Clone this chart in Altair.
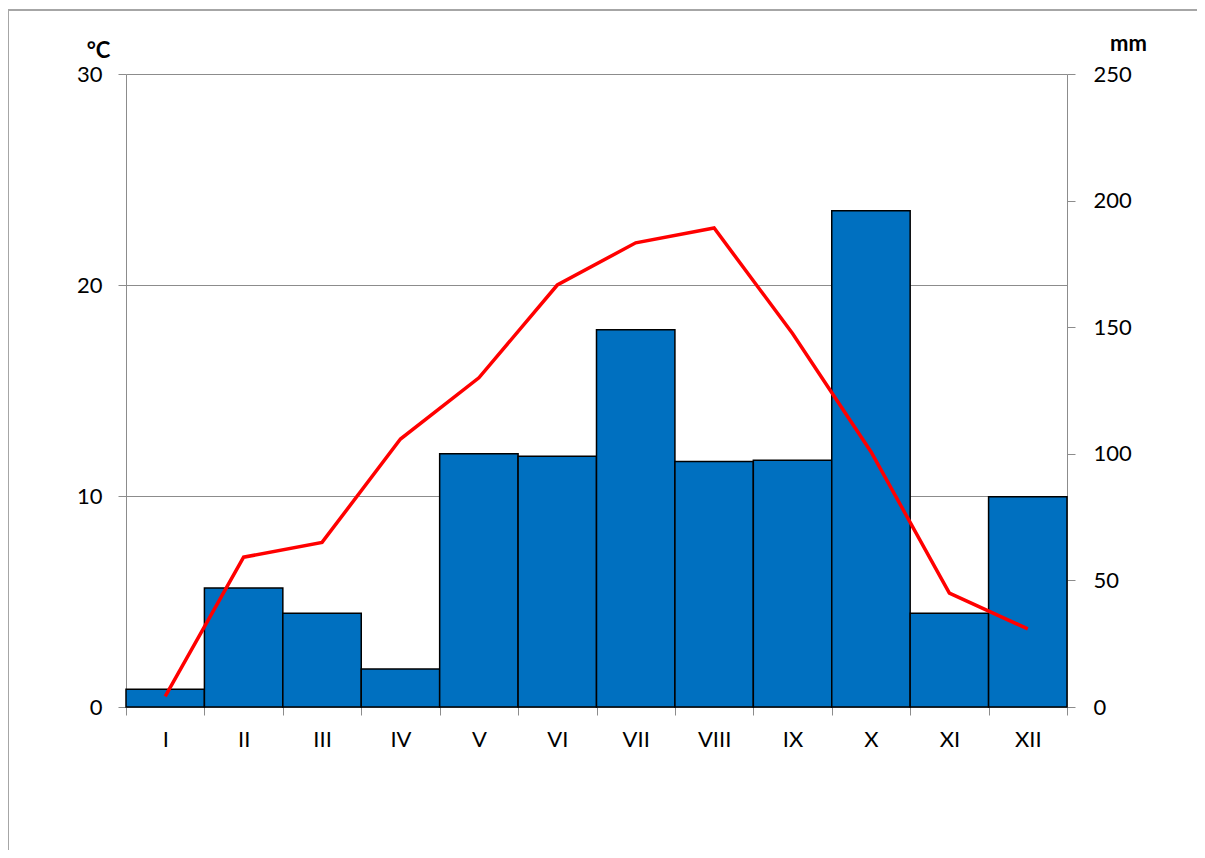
import altair as alt
import pandas as pd

months = ["I", "II", "III", "IV", "V", "VI", "VII", "VIII", "IX", "X", "XI", "XII"]
precip_mm = [7, 47, 37, 15, 100, 99, 149, 97, 97.5, 196, 37, 83]
temp_c = [0.5, 7.1, 7.8, 12.7, 15.6, 20.0, 22.0, 22.7, 17.7, 12.1, 5.4, 3.7]

df = pd.DataFrame({"month": months, "precip": precip_mm, "temp": temp_c})

FONT = "Lato"
GRAY = "#8C8C8C"

xenc = alt.X(
    "month:N",
    sort=months,
    scale=alt.Scale(paddingInner=0, paddingOuter=0),
    axis=alt.Axis(
        title=None, labelAngle=0, tickBand="extent", domainColor=GRAY, tickColor=GRAY,
        tickSize=8, labelPadding=14, labelFont=FONT, labelFontSize=22, labelColor="#000",
        grid=False,
    ),
)

bars = alt.Chart(df).mark_bar(color="#0070C0", stroke="#000000", strokeWidth=1.5).encode(
    x=xenc,
    y=alt.Y(
        "precip:Q",
        scale=alt.Scale(domain=[0, 250], nice=False),
        axis=alt.Axis(
            orient="right", values=[0, 50, 100, 150, 200, 250], grid=False,
            domainColor=GRAY, tickColor=GRAY, tickSize=8, labelPadding=18,
            labelFont=FONT, labelFontSize=22, labelColor="#000",
            title="mm", titleAngle=0, titleX=61, titleY=-24, titleAlign="center",
            titleBaseline="alphabetic", titleFont=FONT, titleFontSize=22,
            titleFontWeight="bold", titleColor="#000",
        ),
    ),
)

line = alt.Chart(df).mark_line(color="#FF0000", strokeWidth=3.5).encode(
    x=alt.X("month:N", sort=months),
    y=alt.Y(
        "temp:Q",
        scale=alt.Scale(domain=[0, 30], nice=False),
        axis=alt.Axis(
            orient="left", values=[0, 10, 20, 30], grid=True, gridColor=GRAY, gridWidth=1,
            domainColor=GRAY, tickColor=GRAY, tickSize=8, labelPadding=16,
            labelFont=FONT, labelFontSize=22, labelColor="#000",
            title="°C", titleAngle=0, titleX=-28, titleY=-17, titleAlign="center",
            titleBaseline="alphabetic", titleFont=FONT, titleFontSize=22,
            titleFontWeight="bold", titleColor="#000",
        ),
    ),
)

one = pd.DataFrame({"a": [0]})
border_top = alt.Chart(one).mark_rule(stroke="#A6A6A6", strokeWidth=2).encode(
    x=alt.value(-119), x2=alt.value(1200), y=alt.value(-64)
)
border_left = alt.Chart(one).mark_rule(stroke="#A6A6A6", strokeWidth=2).encode(
    x=alt.value(-118), y=alt.value(-65), y2=alt.value(900)
)

chart = alt.layer(bars, line, border_top, border_left).resolve_scale(y="independent").properties(
    width=941,
    height=633,
    autosize=alt.AutoSizeParams(type="none"),
    padding={"left": 118, "top": 66, "right": 130, "bottom": 143},
).configure_view(stroke=None)

chart.save("out.html", embed_options={"renderer": "svg", "actions": False})
